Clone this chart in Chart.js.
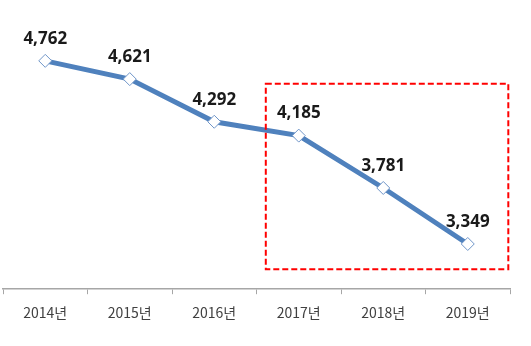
<!DOCTYPE html>
<html>
<head>
<meta charset="utf-8">
<script src="https://cdn.jsdelivr.net/npm/chart.js@4/dist/chart.umd.min.js"></script>
<style>
  html, body { margin: 0; padding: 0; background: #fff; }
  #wrap { width: 531px; height: 346px; }
</style>
</head>
<body>
<div id="wrap"><canvas id="trend" width="531" height="346"></canvas></div>
<script>
var years = ["2014년", "2015년", "2016년", "2017년", "2018년", "2019년"];
var counts = [4762, 4621, 4292, 4185, 3781, 3349];
// highlighted span, in data units (category index / value)
var boxX = [2.61, 5.48];
var boxY = [3154, 4585];

var pointLabels = {
  id: "pointLabels",
  afterDatasetsDraw: function(chart) {
    var ctx = chart.ctx;
    var meta = chart.getDatasetMeta(0);
    ctx.save();
    ctx.font = "bold 17px 'Noto Sans', sans-serif";
    ctx.fillStyle = "#1a1a1a";
    ctx.textAlign = "center";
    ctx.textBaseline = "middle";
    meta.data.forEach(function(pt, i) {
      ctx.fillText(counts[i].toLocaleString("en-US"), pt.x, pt.y - 22);
    });
    ctx.restore();
  }
};

var redBox = {
  id: "redBox",
  afterDraw: function(chart) {
    var xs = chart.scales.x, ys = chart.scales.y;
    var x0 = xs.getPixelForValue(boxX[0]), x1 = xs.getPixelForValue(boxX[1]);
    var y0 = ys.getPixelForValue(boxY[1]), y1 = ys.getPixelForValue(boxY[0]);
    var ctx = chart.ctx;
    ctx.save();
    ctx.strokeStyle = "#ff0000";
    ctx.lineWidth = 2;
    ctx.setLineDash([6, 3]);
    ctx.strokeRect(x0, y0, x1 - x0, y1 - y0);
    ctx.restore();
  }
};

new Chart(document.getElementById("trend"), {
  type: "line",
  data: {
    labels: years,
    datasets: [{
      data: counts,
      borderColor: "#4f81bd",
      borderWidth: 5,
      pointStyle: "rectRot",
      pointRadius: 6.5,
      pointBackgroundColor: "#ffffff",
      pointBorderColor: "#6f95c8",
      pointBorderWidth: 1,
      tension: 0
    }]
  },
  options: {
    responsive: false,
    animation: false,
    layout: { autoPadding: false, padding: { left: 3, right: 21, top: 30, bottom: 15 } },
    plugins: { legend: { display: false }, tooltip: { enabled: false } },
    scales: {
      x: {
        offset: true,
        grid: {
          offset: true,
          drawOnChartArea: false,
          drawTicks: true,
          tickLength: 5,
          color: "#a6a6a6"
        },
        border: { display: true, color: "#a6a6a6", width: 1.5 },
        ticks: {
          padding: 10,
          color: "#404040",
          font: { size: 14, family: "'Noto Sans CJK KR', sans-serif" }
        }
      },
      y: {
        display: false,
        min: 3000,
        max: 5000
      }
    }
  },
  plugins: [pointLabels, redBox]
});
</script>
</body>
</html>
